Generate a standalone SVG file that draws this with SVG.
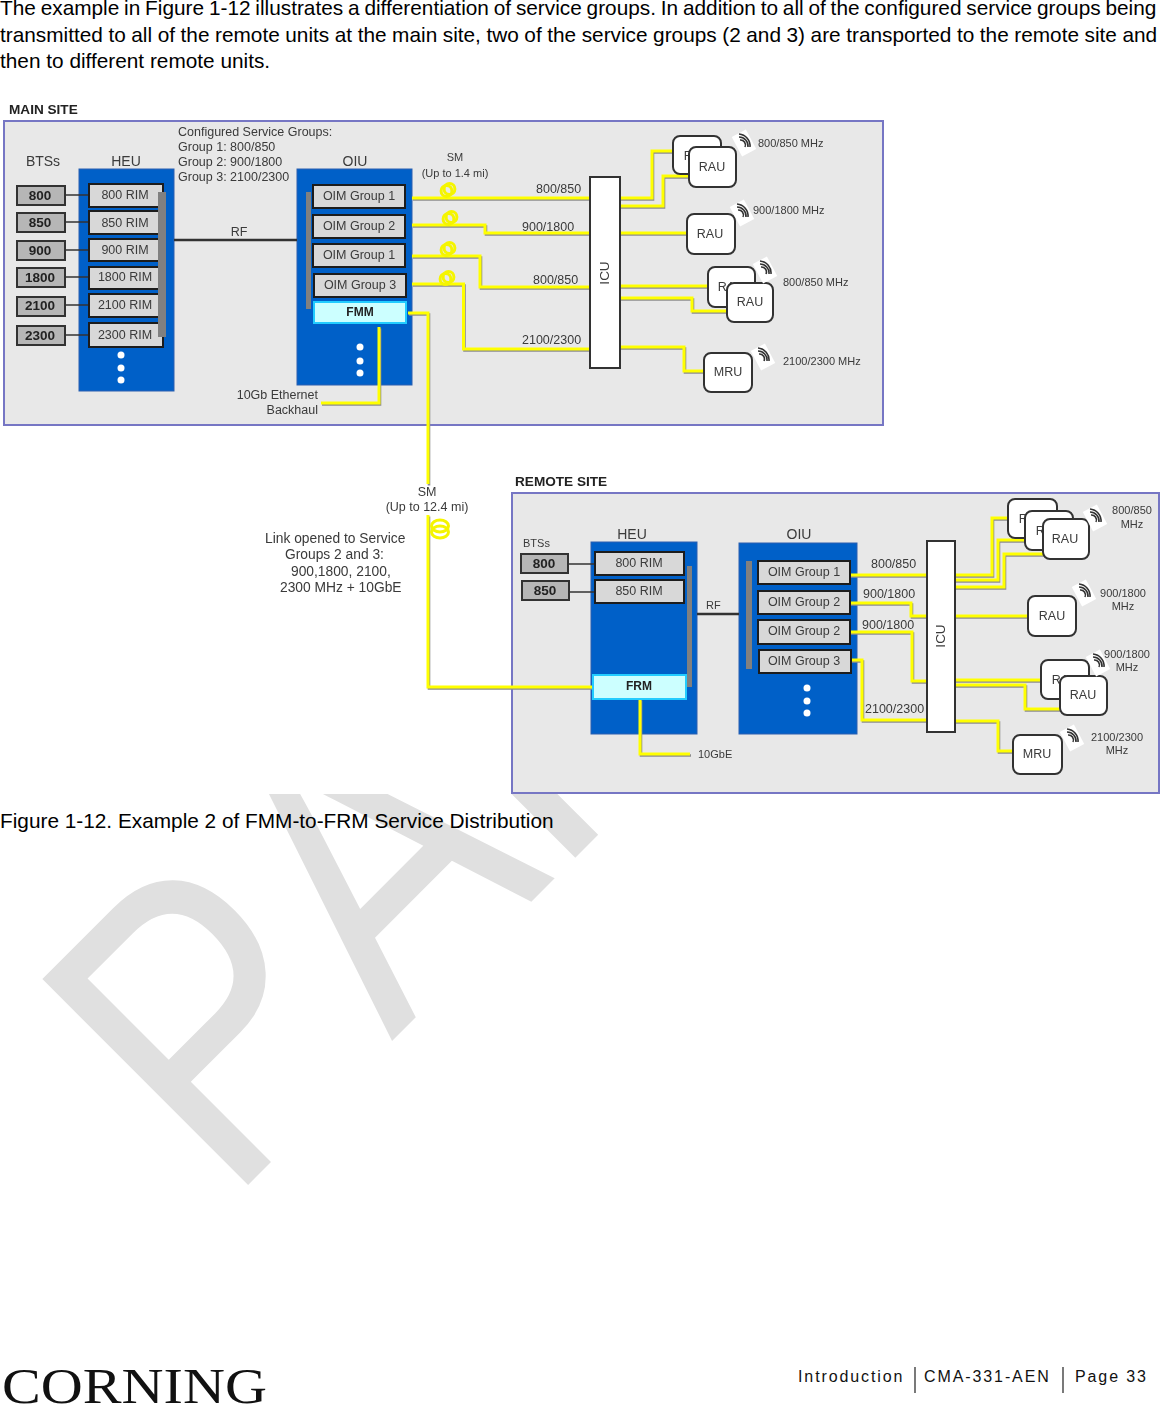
<svg xmlns="http://www.w3.org/2000/svg" xmlns:xlink="http://www.w3.org/1999/xlink" width="1160" height="1406" viewBox="0 0 1160 1406">
<style>
text{font-family:"Liberation Sans",Arial,sans-serif;fill:#3a3a3a;font-size:12.5px}
.page{fill:#000;font-size:20.8px}
.foot{fill:#111;font-size:16px;letter-spacing:1.9px}
.wm{fill:#e0e0e0;font-size:423px;font-kerning:none}
.mid{text-anchor:middle}
.end{text-anchor:end}
.title{font-weight:bold;font-size:13.6px;fill:#222}
.head{font-size:14px;text-anchor:middle}
.bold{font-weight:bold;font-size:13.5px;fill:#222;text-anchor:middle}
.link{font-size:13.8px}
.sm{font-size:11px}
.site{fill:#e8e8e8;stroke:#7676c4;stroke-width:2}
.blue{fill:#0060c8;stroke:#2a5fb0;stroke-width:1}
.bts{fill:#b6b6b6;stroke:#333;stroke-width:2}
.rim{fill:#d8d8d8;stroke:#1a1a1a;stroke-width:2}
.bar{fill:#808080}
.fm{fill:#ccffff;stroke:#20ccff;stroke-width:2}
.icu{fill:#fff;stroke:#333;stroke-width:2}
.ru{fill:#fff;stroke:#333;stroke-width:2}
.dot{fill:#fff}
.blk{fill:none;stroke:#333;stroke-width:1.6}
.rf{fill:none;stroke:#333;stroke-width:2.4}
.y{fill:none;stroke:#ffff00;stroke-width:3}
.ys{fill:none;stroke:#8c8c8c;stroke-width:2.6}
.coil{fill:none;stroke:#f5f500;stroke-width:3}
.arc{fill:none;stroke:#333;stroke-width:1.6}
</style>
<defs>
<filter id="soft" x="-2%" y="-2%" width="104%" height="104%"><feGaussianBlur stdDeviation="0.6"/></filter>
<clipPath id="wmclip"><rect x="0" y="794" width="1160" height="612"/></clipPath>
<g id="wifi"><rect x="-8" y="-11" width="16" height="22" fill="#fff" transform="rotate(-28)"/><path class="arc" d="M-4 -3A5 5 0 0 1 1 4M-5 -6A9 9 0 0 1 4 4M-5 -9A12 12 0 0 1 6 4"/></g>
<g id="coil"><circle class="coil" cx="-1.5" cy="1" r="5.4"/><circle class="coil" cx="1.5" cy="-1" r="5.4"/></g>
<path id="l-main" d="M412 198H591M412 225H485V233H591M412 256H480V287H591M412 284H463.500V349H591M620 198H652V151H673M620 206H663V176H689M620 233H687M620 286H708M620 298H692V311H727M620 347H684V371H704M408 313H428V484M428 515V687H595M379 327V403H321"/>
<path id="l-rem" d="M850 575H927M850 603H911V616H927M850 632H912V681H927M851 660H862V720H927M955 575H992V518H1010M955 580H998V540H1025M955 587H1004V554H1043M955 616H1028M955 680H1041M955 685H1025V709H1060M955 721H998V751H1013M640 699V754H690"/>
</defs>
<rect width="1160" height="1406" fill="#fff"/>
<g clip-path="url(#wmclip)">
<text class="wm" transform="translate(228 1205) rotate(-45) scale(.82 1)">PAR</text>
</g>
<g id="page-text">
<text class="page" x="0" y="15" word-spacing="-0.95">The example in Figure 1-12 illustrates a differentiation of service groups. In addition to all of the configured service groups being</text>
<text class="page" x="0" y="41.500" word-spacing="-0.23">transmitted to all of the remote units at the main site, two of the service groups (2 and 3) are transported to the remote site and</text>
<text class="page" x="0" y="68">then to different remote units.</text>
<text class="page" x="0" y="828">Figure 1-12. Example 2 of FMM-to-FRM Service Distribution</text>
</g>
<g id="figure" filter="url(#soft)">
<g id="main-site"><rect class="site" x="4" y="121" width="879" height="304"/><text class="title" x="9" y="114">MAIN SITE</text></g>
<g id="remote-site"><rect class="site" x="512" y="493" width="647" height="300"/><text class="title" x="515" y="486">REMOTE SITE</text></g>
<g id="main-heu"><rect class="blue" x="79" y="169" width="95" height="222"/><text class="head" x="126" y="166">HEU</text></g>
<g id="main-oiu"><rect class="blue" x="297" y="169" width="115" height="216"/><text class="head" x="355" y="166">OIU</text></g>
<g id="rem-heu"><rect class="blue" x="591" y="542" width="106" height="192"/><text class="head" x="632" y="539">HEU</text></g>
<g id="rem-oiu"><rect class="blue" x="739" y="543" width="118" height="191"/><text class="head" x="799" y="539">OIU</text></g>
<g id="connectors">
<use xlink:href="#l-main" href="#l-main" class="ys" transform="translate(1 1.500)"/>
<use xlink:href="#l-rem" href="#l-rem" class="ys" transform="translate(1 1.500)"/>
<use xlink:href="#l-main" href="#l-main" class="y"/>
<use xlink:href="#l-rem" href="#l-rem" class="y"/>
<path class="rf" d="M174 240H297M697 614H739"/>
<path class="blk" d="M65 195H89M65 222H89M65 250H89M65 277H89M65 305H89M65 335H89M568 564H595M569 592H595"/>
<use xlink:href="#coil" href="#coil" x="448" y="190"/>
<use xlink:href="#coil" href="#coil" x="450" y="218"/>
<use xlink:href="#coil" href="#coil" x="448" y="249"/>
<use xlink:href="#coil" href="#coil" x="447" y="278"/>
<ellipse class="coil" cx="440" cy="526" rx="8.500" ry="6"/><ellipse class="coil" cx="440" cy="532" rx="8.500" ry="6"/>
</g>
<g id="labels">
<text x="43" y="166" class="head">BTSs</text>
<text x="178" y="136">Configured Service Groups:</text>
<text x="178" y="151">Group 1: 800/850</text>
<text x="178" y="166">Group 2: 900/1800</text>
<text x="178" y="181">Group 3: 2100/2300</text>
<text x="239" y="236" class="mid">RF</text>
<text x="455" y="161" class="mid sm">SM</text>
<text x="455" y="177" class="mid sm">(Up to 1.4 mi)</text>
<text x="536" y="193">800/850</text><text x="522" y="231">900/1800</text><text x="533" y="284">800/850</text><text x="522" y="344">2100/2300</text>
<text x="318" y="399" class="end">10Gb Ethernet</text><text x="318" y="414" class="end">Backhaul</text>
<text x="427" y="496" class="mid">SM</text><text x="427" y="511" class="mid">(Up to 12.4 mi)</text>
<text x="265" y="543" class="link">Link opened to Service</text><text x="285" y="559" class="link">Groups 2 and 3:</text><text x="291" y="576" class="link">900,1800, 2100,</text><text x="280" y="592" class="link">2300 MHz + 10GbE</text>
<text x="523" y="547" class="sm">BTSs</text>
<text x="706" y="609" class="sm">RF</text>
<text x="698" y="758" class="sm">10GbE</text>
<text x="871" y="568">800/850</text><text x="863" y="598">900/1800</text><text x="862" y="629">900/1800</text><text x="865" y="713">2100/2300</text>
</g>
<g id="bts-800"><rect class="bts" x="17" y="186" width="48" height="19"/><text class="bold" x="40" y="200">800</text></g>
<g id="bts-850"><rect class="bts" x="17" y="213" width="48" height="19"/><text class="bold" x="40" y="227">850</text></g>
<g id="bts-900"><rect class="bts" x="17" y="241" width="48" height="19"/><text class="bold" x="40" y="255">900</text></g>
<g id="bts-1800"><rect class="bts" x="17" y="268" width="48" height="19"/><text class="bold" x="40" y="282">1800</text></g>
<g id="bts-2100"><rect class="bts" x="17" y="297" width="48" height="19"/><text class="bold" x="40" y="310">2100</text></g>
<g id="bts-2300"><rect class="bts" x="17" y="326" width="48" height="19"/><text class="bold" x="40" y="340">2300</text></g>
<g id="rim-800"><rect class="rim" x="89" y="184" width="74" height="23"/><text class="mid" x="125" y="199">800 RIM</text></g>
<g id="rim-850"><rect class="rim" x="89" y="211" width="74" height="23"/><text class="mid" x="125" y="227">850 RIM</text></g>
<g id="rim-900"><rect class="rim" x="89" y="239" width="74" height="22"/><text class="mid" x="125" y="254">900 RIM</text></g>
<g id="rim-1800"><rect class="rim" x="89" y="267" width="74" height="22"/><text class="mid" x="125" y="281">1800 RIM</text></g>
<g id="rim-2100"><rect class="rim" x="89" y="294" width="74" height="23"/><text class="mid" x="125" y="309">2100 RIM</text></g>
<g id="rim-2300"><rect class="rim" x="89" y="323" width="74" height="24"/><text class="mid" x="125" y="339">2300 RIM</text></g>
<rect class="bar" x="158" y="192" width="8" height="145"/>
<g id="heu-dots"><circle class="dot" cx="121" cy="355" r="3.500"/><circle class="dot" cx="121" cy="368" r="3.500"/><circle class="dot" cx="121" cy="380" r="3.500"/></g>
<rect class="bar" x="306" y="192" width="5" height="117"/>
<g id="oim-1"><rect class="rim" x="313" y="185" width="92" height="23"/><text class="mid" x="359" y="200">OIM Group 1</text></g>
<g id="oim-2"><rect class="rim" x="313" y="215" width="92" height="23"/><text class="mid" x="359" y="230">OIM Group 2</text></g>
<g id="oim-3"><rect class="rim" x="313" y="244" width="92" height="23"/><text class="mid" x="359" y="259">OIM Group 1</text></g>
<g id="oim-4"><rect class="rim" x="314" y="274" width="92" height="23"/><text class="mid" x="360" y="289">OIM Group 3</text></g>
<g id="fmm"><rect class="fm" x="314" y="302" width="92" height="21"/><text class="bold" style="font-size:12px" x="360" y="316">FMM</text></g>
<g id="oiu-dots"><circle class="dot" cx="360" cy="347" r="3.500"/><circle class="dot" cx="360" cy="361" r="3.500"/><circle class="dot" cx="360" cy="373" r="3.500"/></g>
<g id="icu-main"><rect class="icu" x="590" y="177" width="30" height="191"/><text class="mid" transform="translate(609 273) rotate(-90)" style="font-size:13.500px">ICU</text></g>
<g id="rau-1a"><rect class="ru" x="673" y="136" width="48" height="38" rx="7"/><text class="mid" x="697" y="160">RAU</text></g>
<g id="rau-1b"><rect class="ru" x="689" y="147" width="47" height="40" rx="7"/><text class="mid" x="712" y="171">RAU</text></g>
<g id="rau-2"><rect class="ru" x="687" y="214" width="48" height="40" rx="7"/><text class="mid" x="710" y="238">RAU</text></g>
<g id="rau-3a"><rect class="ru" x="708" y="267" width="47" height="40" rx="7"/><text class="mid" x="731" y="291">RAU</text></g>
<g id="rau-3b"><rect class="ru" x="727" y="283" width="46" height="39" rx="7"/><text class="mid" x="750" y="306">RAU</text></g>
<g id="mru-1"><rect class="ru" x="704" y="353" width="48" height="39" rx="7"/><text class="mid" x="728" y="376">MRU</text></g>
<g id="main-wifi">
<use xlink:href="#wifi" href="#wifi" x="744" y="143"/><use xlink:href="#wifi" href="#wifi" x="742" y="213"/><use xlink:href="#wifi" href="#wifi" x="765" y="270"/><use xlink:href="#wifi" href="#wifi" x="763" y="357"/>
<text class="sm" x="758" y="147">800/850 MHz</text><text class="sm" x="753" y="214">900/1800 MHz</text><text class="sm" x="783" y="286">800/850 MHz</text><text class="sm" x="783" y="365">2100/2300 MHz</text>
</g>
<g id="bts-r800"><rect class="bts" x="521" y="554" width="47" height="19"/><text class="bold" x="544" y="568">800</text></g>
<g id="bts-r850"><rect class="bts" x="522" y="581" width="47" height="19"/><text class="bold" x="545" y="595">850</text></g>
<g id="rim-r800"><rect class="rim" x="595" y="552" width="89" height="23"/><text class="mid" x="639" y="567">800 RIM</text></g>
<g id="rim-r850"><rect class="rim" x="595" y="580" width="89" height="23"/><text class="mid" x="639" y="595">850 RIM</text></g>
<rect class="bar" x="687" y="566" width="5" height="121"/>
<g id="frm"><rect class="fm" x="593" y="675" width="93" height="24"/><text class="bold" style="font-size:12px" x="639" y="690">FRM</text></g>
<rect class="bar" x="746" y="561" width="6" height="108"/>
<g id="oim-r1"><rect class="rim" x="758" y="561" width="92" height="23"/><text class="mid" x="804" y="576">OIM Group 1</text></g>
<g id="oim-r2"><rect class="rim" x="758" y="591" width="92" height="23"/><text class="mid" x="804" y="606">OIM Group 2</text></g>
<g id="oim-r3"><rect class="rim" x="758" y="620" width="92" height="24"/><text class="mid" x="804" y="635">OIM Group 2</text></g>
<g id="oim-r4"><rect class="rim" x="759" y="650" width="92" height="23"/><text class="mid" x="804" y="665">OIM Group 3</text></g>
<g id="roiu-dots"><circle class="dot" cx="807" cy="688" r="3.500"/><circle class="dot" cx="807" cy="701" r="3.500"/><circle class="dot" cx="807" cy="713" r="3.500"/></g>
<g id="icu-rem"><rect class="icu" x="927" y="541" width="28" height="191"/><text class="mid" transform="translate(945 636) rotate(-90)" style="font-size:13.500px">ICU</text></g>
<g id="rau-r1a"><rect class="ru" x="1008" y="499" width="49" height="39" rx="7"/><text class="mid" x="1032" y="523">RAU</text></g>
<g id="rau-r1b"><rect class="ru" x="1025" y="511" width="48" height="39" rx="7"/><text class="mid" x="1049" y="535">RAU</text></g>
<g id="rau-r1c"><rect class="ru" x="1043" y="519" width="46" height="40" rx="7"/><text class="mid" x="1065" y="543">RAU</text></g>
<g id="rau-r2"><rect class="ru" x="1028" y="596" width="48" height="40" rx="7"/><text class="mid" x="1052" y="620">RAU</text></g>
<g id="rau-r3a"><rect class="ru" x="1041" y="660" width="48" height="39" rx="7"/><text class="mid" x="1065" y="684">RAU</text></g>
<g id="rau-r3b"><rect class="ru" x="1060" y="676" width="47" height="39" rx="7"/><text class="mid" x="1083" y="699">RAU</text></g>
<g id="mru-r"><rect class="ru" x="1013" y="735" width="49" height="39" rx="7"/><text class="mid" x="1037" y="758">MRU</text></g>
<g id="rem-wifi">
<use xlink:href="#wifi" href="#wifi" x="1095" y="518"/><use xlink:href="#wifi" href="#wifi" x="1084" y="593"/><use xlink:href="#wifi" href="#wifi" x="1098" y="663"/><use xlink:href="#wifi" href="#wifi" x="1072" y="738"/>
<text class="sm mid" x="1132" y="514">800/850</text><text class="sm mid" x="1132" y="528">MHz</text>
<text class="sm mid" x="1123" y="597">900/1800</text><text class="sm mid" x="1123" y="610">MHz</text>
<text class="sm mid" x="1127" y="658">900/1800</text><text class="sm mid" x="1127" y="671">MHz</text>
<text class="sm mid" x="1117" y="741">2100/2300</text><text class="sm mid" x="1117" y="754">MHz</text>
</g>
</g>
<g id="footer">
<text x="2" y="1403" textLength="265" lengthAdjust="spacingAndGlyphs" style="font-family:'Liberation Serif',serif;font-size:50px;fill:#111">CORNING</text>
<text class="foot" x="798" y="1382">Introduction</text>
<path d="M915 1367V1393M1063 1367V1393" stroke="#222" stroke-width="1.200" fill="none"/>
<text class="foot" x="924" y="1382">CMA-331-AEN</text>
<text class="foot" x="1075" y="1382">Page 33</text>
</g>
</svg>
